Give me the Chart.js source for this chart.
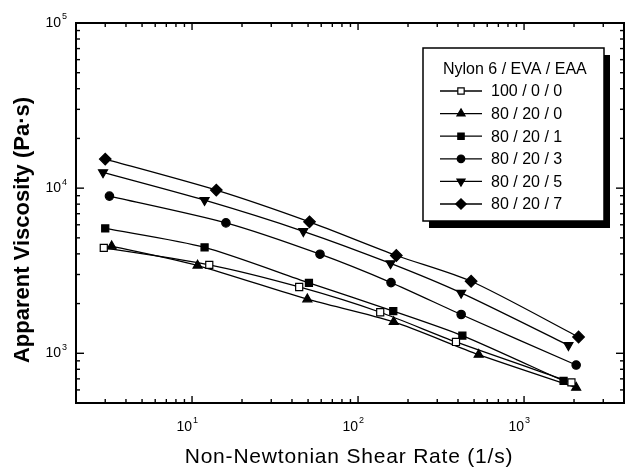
<!DOCTYPE html>
<html>
<head>
<meta charset="utf-8">
<title>Apparent viscosity vs shear rate</title>
<script src="https://cdn.jsdelivr.net/npm/chart.js@4.4.1/dist/chart.umd.min.js"></script>
<style>
  html, body { margin: 0; padding: 0; background: #fff; }
  #wrap { width: 625px; height: 469px; }
</style>
</head>
<body>
<div id="wrap"><canvas id="viscChart" width="625" height="469"></canvas></div>
<script>
// blend labels (Nylon 6 / EVA / EAA)
const seriesLabels = ["100 / 0 / 0", "80 / 20 / 0", "80 / 20 / 1", "80 / 20 / 3", "80 / 20 / 5", "80 / 20 / 7"];

// shear rate (1/s) of each measured point
const rate_100_0_0 = [2.94, 12.7, 44.2, 136, 389, 1930];
const rate_80_20_0 = [3.28, 10.8, 49.5, 164, 533, 2060];
const rate_80_20_1 = [3.0, 11.9, 50.6, 163, 425, 1730];
const rate_80_20_3 = [3.18, 16.0, 59, 158, 418, 2060];
const rate_80_20_5 = [2.91, 11.9, 46.8, 157, 418, 1850];
const rate_80_20_7 = [3.0, 14.0, 51, 170, 480, 2130];

// apparent viscosity (Pa·s)
const visc_100_0_0 = [4350, 3430, 2520, 1772, 1171, 667];
const visc_80_20_0 = [4450, 3400, 2125, 1549, 981, 620];
const visc_80_20_1 = [5700, 4375, 2667, 1803, 1280, 680];
const visc_80_20_3 = [8950, 6160, 3980, 2680, 1717, 849];
const visc_80_20_5 = [12450, 8450, 5480, 3500, 2320, 1118];
const visc_80_20_7 = [15000, 9730, 6250, 3910, 2730, 1255];

// decade labels on the axes (10^n)
const xTickExponents = [1, 2, 3];
const yTickExponents = [3, 4, 5];

const xTitle = "Non-Newtonian Shear Rate (1/s)";
const yTitle = "Apparent Viscosity (Pa\u00b7s)";
const legendTitle = "Nylon 6 / EVA / EAA";

const FONT = '"Liberation Sans", Arial, Helvetica, sans-serif';

const rates = [rate_100_0_0, rate_80_20_0, rate_80_20_1, rate_80_20_3, rate_80_20_5, rate_80_20_7];
const viscs = [visc_100_0_0, visc_80_20_0, visc_80_20_1, visc_80_20_3, visc_80_20_5, visc_80_20_7];

// marker look for each blend
const markers = [
  { pointStyle: "rect", radius: 5, fill: "#fff", rotation: 0 },
  { pointStyle: "triangle", radius: 5.2, fill: "#000", rotation: 0 },
  { pointStyle: "rect", radius: 5, fill: "#000", rotation: 0 },
  { pointStyle: "circle", radius: 4.2, fill: "#000", rotation: 0 },
  { pointStyle: "triangle", radius: 5.2, fill: "#000", rotation: 180 },
  { pointStyle: "rectRot", radius: 5.8, fill: "#000", rotation: 0 },
];

const datasets = seriesLabels.map((label, i) => ({
  label: label,
  data: rates[i].map((r, k) => ({ x: r, y: viscs[i][k] })),
  borderColor: "#000",
  borderWidth: 1.3,
  tension: 0.25,
  fill: false,
  pointStyle: markers[i].pointStyle,
  pointRadius: markers[i].radius,
  pointRotation: markers[i].rotation,
  pointBackgroundColor: markers[i].fill,
  pointBorderColor: "#000",
  pointBorderWidth: 1.2,
  clip: false,
}));

function line(ctx, x1, y1, x2, y2) {
  ctx.beginPath();
  ctx.moveTo(x1, y1);
  ctx.lineTo(x2, y2);
  ctx.stroke();
}

// "10" with a raised exponent; align = 'center' or 'right'
function drawPower(ctx, exp, x, y, align) {
  ctx.font = "14px " + FONT;
  const base = "10";
  const wBase = ctx.measureText(base).width;
  ctx.font = "9px " + FONT;
  const wExp = ctx.measureText(String(exp)).width;
  let left;
  if (align === "right") left = x - wBase - wExp - 1;
  else left = x - wBase;
  ctx.textAlign = "left";
  ctx.textBaseline = "middle";
  ctx.font = "14px " + FONT;
  ctx.fillText(base, left, y);
  ctx.font = "9px " + FONT;
  ctx.fillText(String(exp), left + wBase + 1, y - 6);
}

const axesAndLegend = {
  id: "axesAndLegend",
  afterDatasetsDraw(chart) {
    const ctx = chart.ctx;
    const { left, right, top, bottom } = chart.chartArea;
    const xs = chart.scales.x;
    const ys = chart.scales.y;
    ctx.save();
    ctx.strokeStyle = "#000";
    ctx.fillStyle = "#000";

    // frame
    ctx.lineWidth = 2;
    ctx.strokeRect(left, top, right - left, bottom - top);

    // inward ticks on all four sides
    ctx.lineWidth = 1.4;
    for (let e = 0; e <= 4; e++) {
      for (let m = 1; m <= 9; m++) {
        const v = m * Math.pow(10, e);
        if (v > xs.min && v < xs.max) {
          const px = xs.getPixelForValue(v);
          const len = m === 1 ? 7 : 4;
          line(ctx, px, bottom, px, bottom - len);
          line(ctx, px, top, px, top + len);
        }
      }
    }
    for (let e = 2; e <= 5; e++) {
      for (let m = 1; m <= 9; m++) {
        const v = m * Math.pow(10, e);
        if (v > ys.min && v < ys.max) {
          const py = ys.getPixelForValue(v);
          const len = m === 1 ? 8 : 4;
          line(ctx, left, py, left + len, py);
          line(ctx, right, py, right - len, py);
        }
      }
    }

    // decade labels
    xTickExponents.forEach((e) => {
      drawPower(ctx, e, xs.getPixelForValue(Math.pow(10, e)), 427, "center");
    });
    yTickExponents.forEach((e) => {
      drawPower(ctx, e, 67, ys.getPixelForValue(Math.pow(10, e)), "right");
    });

    // axis titles
    ctx.font = "21px " + FONT;
    ctx.textAlign = "center";
    ctx.textBaseline = "alphabetic";
    if ("letterSpacing" in ctx) ctx.letterSpacing = "0.8px";
    ctx.fillText(xTitle, 349, 463);
    if ("letterSpacing" in ctx) ctx.letterSpacing = "0px";

    ctx.save();
    ctx.translate(23, 230);
    ctx.rotate(-Math.PI / 2);
    ctx.font = "bold 22px " + FONT;
    ctx.textBaseline = "middle";
    ctx.fillText(yTitle, 0, 0);
    ctx.restore();

    // legend box with drop shadow
    const bx = 423, by = 48, bw = 181, bh = 173;
    ctx.fillStyle = "#000";
    ctx.fillRect(bx + 6, by + 7, bw, bh);
    ctx.fillStyle = "#fff";
    ctx.fillRect(bx, by, bw, bh);
    ctx.lineWidth = 1.5;
    ctx.strokeRect(bx, by, bw, bh);

    ctx.fillStyle = "#000";
    ctx.font = "16px " + FONT;
    ctx.textAlign = "left";
    ctx.textBaseline = "middle";
    ctx.fillText(legendTitle, 443, 70);

    chart.data.datasets.forEach((ds, i) => {
      const y = 91 + i * 22.6;
      ctx.lineWidth = 1.3;
      ctx.strokeStyle = "#000";
      line(ctx, 440, y, 482, y);
      ctx.fillStyle = markers[i].fill;
      ctx.lineWidth = 1.2;
      if (Chart.helpers && Chart.helpers.drawPoint) {
        Chart.helpers.drawPoint(ctx, {
          pointStyle: markers[i].pointStyle,
          rotation: markers[i].rotation,
          radius: markers[i].radius * 0.9,
          borderWidth: 1.2,
        }, 461, y);
      }
      ctx.fillStyle = "#000";
      ctx.font = "16px " + FONT;
      ctx.fillText(ds.label, 491, y + 1);
    });

    ctx.restore();
  },
};

new Chart(document.getElementById("viscChart"), {
  type: "line",
  data: { datasets: datasets },
  options: {
    responsive: false,
    animation: false,
    layout: { autoPadding: false, padding: { left: 76, top: 23, right: 1, bottom: 66 } },
    scales: {
      x: { type: "logarithmic", min: 2, max: 4000, display: false },
      y: { type: "logarithmic", min: 500, max: 100000, display: false },
    },
    plugins: {
      legend: { display: false },
      tooltip: { enabled: false },
    },
  },
  plugins: [axesAndLegend],
});
</script>
</body>
</html>
